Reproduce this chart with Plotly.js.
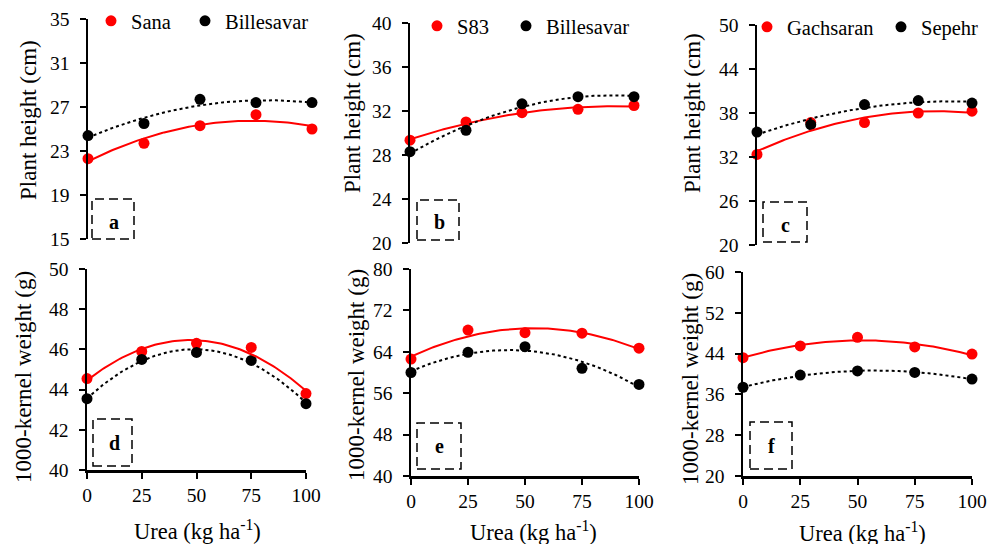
<!DOCTYPE html>
<html><head><meta charset="utf-8">
<script src="https://cdn.plot.ly/plotly-3.0.1.min.js"></script>
<style>html,body{margin:0;padding:0;background:#fff}#chart{width:989px;height:544px}</style>
</head><body><div id="chart"></div>
<script>
// ---------- data ----------
const urea = [0, 25, 50, 75, 100];
const xTickVals = [0, 25, 50, 75, 100];
const xTickText = ['0', '25', '50', '75', '100'];

// Plant height (cm)
const heightSana        = [22.3, 23.7, 25.3, 26.3, 25.0];
const heightBillesavarA = [24.4, 25.5, 27.7, 27.4, 27.4];
const heightS83         = [29.35, 31.0, 31.85, 32.15, 32.5];
const heightBillesavarB = [28.3, 30.25, 32.65, 33.3, 33.3];
const heightGachsaran   = [32.35, 36.7, 36.7, 38.0, 38.25];
const heightSepehr      = [35.4, 36.4, 39.15, 39.7, 39.35];

// 1000-kernel weight (g)
const tkwSana        = [44.55, 45.9, 46.3, 46.1, 43.8];
const tkwBillesavarD = [43.55, 45.5, 45.85, 45.45, 43.3];
const tkwS83         = [62.6, 68.2, 67.7, 67.6, 64.7];
const tkwBillesavarE = [60.0, 63.9, 65.0, 60.8, 57.7];
const tkwGachsaran   = [43.2, 45.5, 47.2, 45.3, 43.9];
const tkwSepehr      = [37.4, 39.8, 40.6, 40.3, 39.0];

const panelLetters = ['a', 'b', 'c', 'd', 'e', 'f'];
const redNames   = ['Sana', 'S83', 'Gachsaran', 'Sana', 'S83', 'Gachsaran'];
const blackNames = ['Billesavar', 'Billesavar', 'Sepehr', 'Billesavar', 'Billesavar', 'Sepehr'];
const redSeries   = [heightSana, heightS83, heightGachsaran, tkwSana, tkwS83, tkwGachsaran];
const blackSeries = [heightBillesavarA, heightBillesavarB, heightSepehr, tkwBillesavarD, tkwBillesavarE, tkwSepehr];
const yTitles = ['Plant height (cm)', 'Plant height (cm)', 'Plant height (cm)',
                 '1000-kernel weight (g)', '1000-kernel weight (g)', '1000-kernel weight (g)'];
const yRanges = [[15, 35], [20, 40], [20, 50], [40, 50], [40, 80], [20, 60]];
const yDticks = [4, 4, 6, 2, 8, 8];
const xTitle = 'Urea (kg ha<sup>-1</sup>)';

// ---------- layout geometry (pixels) ----------
const W = 989, H = 544;
const PX = p => p / W, PY = p => 1 - p / H;
const plotBox = [ // [left, right, top, bottom]
  [88, 312, 19, 239], [410, 634, 23, 243], [757, 972, 25, 245],
  [87, 306, 269, 470], [411, 639, 269, 476], [743, 972, 272, 476]
];
const letterBox = [
  [92, 134, 199, 239], [417, 459, 200, 240], [763, 807, 202, 242],
  [93, 132, 419, 466], [417, 461, 423, 469], [750, 792, 422, 469]
];
const letterPos = [[114, 222], [439, 222], [785, 225], [114, 443], [439, 446], [771, 446]];
const yTitlePos = [[28, 120], [352, 113], [692, 113], [23, 377], [356, 375], [690, 379]];
const xTitlePos = [null, null, null, [197, 530], [533, 531], [862, 532]];
// legend: [textStart, y]
const legendPos = [[[131, 21], [225, 21]], [[457, 26], [546, 26]], [[787, 27], [921, 27]]];

const FONT = '"Liberation Serif", "Times New Roman", serif';

function quadFit(x, y) {
  const S = [0, 0, 0, 0, 0], T = [0, 0, 0];
  for (let i = 0; i < x.length; i++) {
    for (let k = 0; k < 5; k++) S[k] += Math.pow(x[i], k);
    for (let k = 0; k < 3; k++) T[k] += y[i] * Math.pow(x[i], k);
  }
  const A = [[S[0], S[1], S[2], T[0]], [S[1], S[2], S[3], T[1]], [S[2], S[3], S[4], T[2]]];
  for (let c = 0; c < 3; c++) {
    for (let r = c + 1; r < 3; r++) {
      const f = A[r][c] / A[c][c];
      for (let k = c; k < 4; k++) A[r][k] -= f * A[c][k];
    }
  }
  const b = [0, 0, 0];
  for (let r = 2; r >= 0; r--) {
    let s = A[r][3];
    for (let k = r + 1; k < 3; k++) s -= A[r][k] * b[k];
    b[r] = s / A[r][r];
  }
  return xv => b[0] + b[1] * xv + b[2] * xv * xv;
}

const traces = [];
const layout = {
  width: W, height: H, margin: {l: 0, r: 0, t: 0, b: 0},
  paper_bgcolor: '#fff', plot_bgcolor: 'rgba(0,0,0,0)',
  font: {family: FONT, color: '#000'},
  showlegend: true,
  annotations: [], shapes: []
};

const trendX = [];
for (let v = 0; v <= 100; v += 1) trendX.push(v);

const legendId = k => 'legend' + (k === 0 ? '' : String(k + 1));

for (let i = 0; i < 6; i++) {
  const sfx = i === 0 ? '' : String(i + 1);
  const xa = 'x' + sfx, ya = 'y' + sfx;
  const [l, r, t, b] = plotBox[i];
  const bottomRow = i >= 3;

  const fr = quadFit(urea, redSeries[i]);
  const fb = quadFit(urea, blackSeries[i]);

  traces.push({x: urea, y: redSeries[i], xaxis: xa, yaxis: ya, type: 'scatter', mode: 'markers',
    name: redNames[i], marker: {color: '#FF0000', size: 11}, cliponaxis: false,
    showlegend: !bottomRow, legend: legendId(2 * (i % 3))});
  traces.push({x: urea, y: blackSeries[i], xaxis: xa, yaxis: ya, type: 'scatter', mode: 'markers',
    name: blackNames[i], marker: {color: '#000000', size: 11}, cliponaxis: false,
    showlegend: !bottomRow, legend: legendId(2 * (i % 3) + 1)});
  traces.push({x: trendX, y: trendX.map(fr), xaxis: xa, yaxis: ya, type: 'scatter', mode: 'lines',
    line: {color: '#FF0000', width: 2}, cliponaxis: false, showlegend: false, hoverinfo: 'skip'});
  traces.push({x: trendX, y: trendX.map(fb), xaxis: xa, yaxis: ya, type: 'scatter', mode: 'lines',
    line: {color: '#000000', width: 2, dash: 'dot'}, cliponaxis: false, showlegend: false, hoverinfo: 'skip'});

  layout['xaxis' + sfx] = {
    domain: [PX(l), PX(r)], range: [0, 100], anchor: ya, fixedrange: true,
    showgrid: false, zeroline: false,
    showline: bottomRow, linecolor: '#000', linewidth: 2.5,
    ticks: bottomRow ? 'outside' : '', ticklen: 6, tickwidth: 2, tickcolor: '#000',
    tickvals: xTickVals, ticktext: xTickText, showticklabels: bottomRow,
    tickfont: {family: FONT, size: 19.5, color: '#000'}
  };
  layout['yaxis' + sfx] = {
    domain: [PY(b), PY(t)], range: yRanges[i], dtick: yDticks[i], tick0: yRanges[i][0],
    anchor: xa, fixedrange: true, showgrid: false, zeroline: false,
    showline: true, linecolor: '#000', linewidth: 2.5,
    ticks: 'outside', ticklen: 6, tickwidth: 2, tickcolor: '#000',
    tickfont: {family: FONT, size: 19.5, color: '#000'}, ticklabelstandoff: 6
  };

  layout.annotations.push({xref: 'paper', yref: 'paper', x: PX(yTitlePos[i][0]), y: PY(yTitlePos[i][1]),
    text: yTitles[i], textangle: -90, showarrow: false, xanchor: 'center', yanchor: 'middle',
    font: {family: FONT, size: 23, color: '#000'}});
  if (xTitlePos[i]) {
    layout.annotations.push({xref: 'paper', yref: 'paper', x: PX(xTitlePos[i][0]), y: PY(xTitlePos[i][1]),
      text: xTitle, showarrow: false, xanchor: 'center', yanchor: 'middle',
      font: {family: FONT, size: 22.5, color: '#000'}});
  }
  const lb = letterBox[i];
  layout.shapes.push({type: 'rect', xref: 'paper', yref: 'paper',
    x0: PX(lb[0]), x1: PX(lb[1]), y0: PY(lb[3]), y1: PY(lb[2]),
    line: {color: '#000', width: 1.5, dash: '9px,5px'}, fillcolor: 'rgba(0,0,0,0)'});
  layout.annotations.push({xref: 'paper', yref: 'paper', x: PX(letterPos[i][0]), y: PY(letterPos[i][1]),
    text: '<b>' + panelLetters[i] + '</b>', showarrow: false, xanchor: 'center', yanchor: 'middle',
    font: {family: FONT, size: 20, color: '#000'}});

  if (!bottomRow) {
    for (let j = 0; j < 2; j++) {
      const [ts, ly] = legendPos[i][j];
      layout[legendId(2 * i + j)] = {x: PX(ts - 40), xanchor: 'left', y: PY(ly), yanchor: 'middle',
        orientation: 'h', bgcolor: 'rgba(0,0,0,0)', borderwidth: 0,
        font: {family: FONT, size: 20.5, color: '#000'}, itemclick: false, itemdoubleclick: false};
    }
  }
}

Plotly.newPlot('chart', traces, layout, {displayModeBar: false, staticPlot: true});
</script>
</body></html>
